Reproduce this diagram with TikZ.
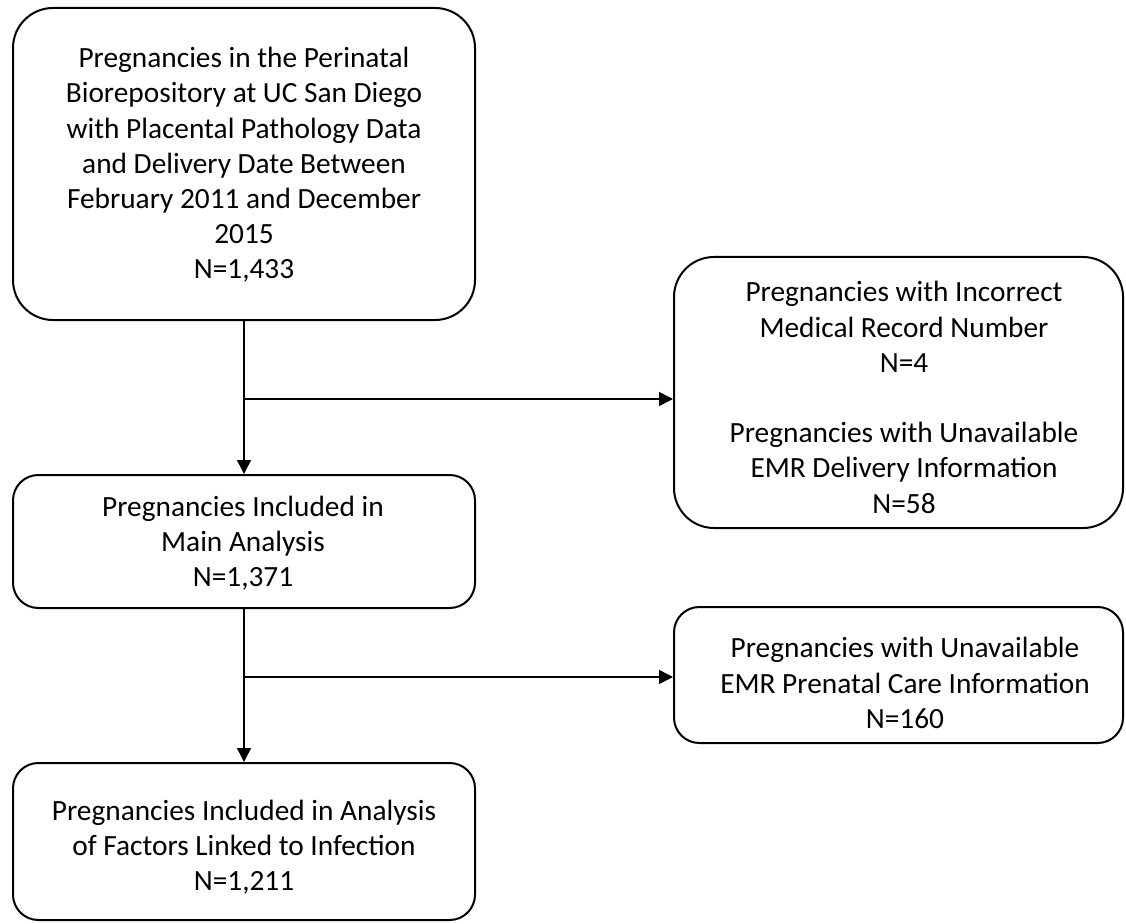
\documentclass[tikz,border=0pt]{standalone}
\usepackage{fontspec}
\setmainfont{Carlito}
\usetikzlibrary{arrows.meta}
\begin{document}
\begin{tikzpicture}[x=0.75pt,y=-0.75pt,
  box/.style={draw=black,line width=1.5pt,rectangle,inner sep=0pt},
  txt/.style={align=center,font=\fontsize{22}{26.4}\selectfont,inner sep=0pt},
  conn/.style={line width=1.1pt,-{Triangle[length=10.5pt,width=10.5pt]}}]
\useasboundingbox (0,0) rectangle (1126,923);
% boxes
\node[box,rounded corners=30pt,minimum width=462*0.75pt,minimum height=312*0.75pt] (b1) at (244,164) {};
\node[box,rounded corners=30pt,minimum width=449*0.75pt,minimum height=271*0.75pt] (b2) at (898.5,392.5) {};
\node[box,rounded corners=19pt,minimum width=462*0.75pt,minimum height=133*0.75pt] (b3) at (244,541.5) {};
\node[box,rounded corners=19pt,minimum width=449*0.75pt,minimum height=136*0.75pt] (b4) at (898.5,675) {};
\node[box,rounded corners=19pt,minimum width=462*0.75pt,minimum height=157*0.75pt] (b5) at (244,841.5) {};
% texts
\node[txt] (t1) at (244,165) {Pregnancies in the Perinatal\\Biorepository at UC San Diego\\with Placental Pathology Data\\and Delivery Date Between\\February 2011 and December\\2015\\N=1,433};
\node[txt] (t2) at (904,397.5) {Pregnancies with Incorrect\\Medical Record Number\\N=4\\[26.4pt]Pregnancies with Unavailable\\EMR Delivery Information\\N=58};
\node[txt] (t3) at (243,543) {Pregnancies Included in\\Main Analysis\\N=1,371};
\node[txt] (t4) at (905,683) {Pregnancies with Unavailable\\EMR Prenatal Care Information\\N=160};
\node[txt] (t5) at (244,847) {Pregnancies Included in Analysis\\of Factors Linked to Infection\\N=1,211};
% connectors
\coordinate (j1) at (244,399);
\coordinate (j2) at (244,677);
\draw[conn] (b1.south -| j1) -- (b3.north -| j1);
\draw[conn] (j1) -- (j1 -| b2.west);
\draw[conn] (b3.south -| j2) -- (b5.north -| j2);
\draw[conn] (j2) -- (j2 -| b4.west);
\end{tikzpicture}
\end{document}
